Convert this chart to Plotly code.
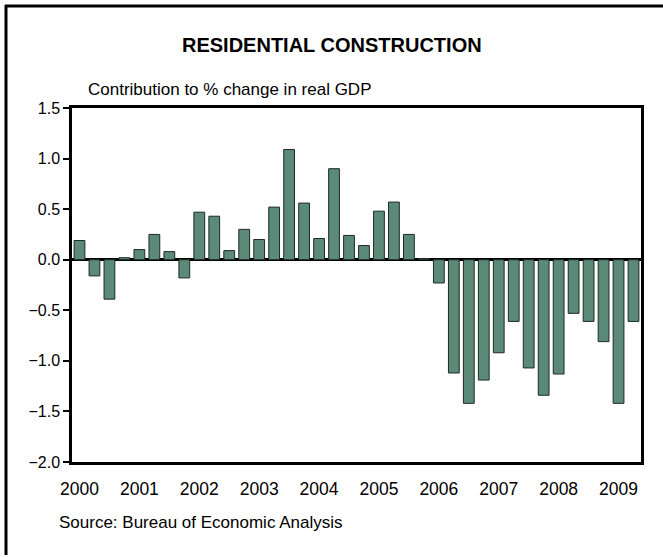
import plotly.graph_objects as go

quarters = [f"{y}Q{q}" for y in range(2000, 2010) for q in range(1, 5)][:38]
values = [0.19, -0.16, -0.39, 0.02, 0.10, 0.25, 0.08, -0.18,
          0.47, 0.43, 0.09, 0.30, 0.20, 0.52, 1.09, 0.56,
          0.21, 0.90, 0.24, 0.14, 0.48, 0.57, 0.25, 0.01,
          -0.23, -1.12, -1.42, -1.19, -0.92, -0.61, -1.07, -1.34,
          -1.13, -0.53, -0.61, -0.81, -1.42, -0.61]
year_labels = [str(y) for y in range(2000, 2010)]
year_ticks = [f"{y}Q1" for y in range(2000, 2010)]

W, H = 663, 557
L, R, T, B = 72, 641, 108, 462

def px(x):
    return (x - L) / (R - L)

def py(y):
    return (B - y) / (B - T)

fig = go.Figure(go.Bar(
    x=quarters, y=values,
    marker=dict(color="#5B8A78", line=dict(color="#1e2a25", width=1)),
    width=0.72,
))

font = "Liberation Sans, Arial, sans-serif"
fig.update_layout(
    width=W, height=H,
    margin=dict(l=L, r=W - R, t=T, b=H - B),
    paper_bgcolor="white", plot_bgcolor="white",
    showlegend=False,
    font=dict(family=font, size=16, color="black"),
    xaxis=dict(
        type="category", categoryorder="array", categoryarray=quarters,
        tickmode="array", tickvals=year_ticks, ticktext=year_labels,
        showgrid=False, showline=True, mirror=True, linecolor="black", linewidth=2.5,
        ticks="", ticklabelstandoff=9, tickfont=dict(size=17.5), range=[-0.5, 37.5],
    ),
    yaxis=dict(
        range=[-2.0, 1.5], dtick=0.5, tick0=0, tickformat=".1f",
        showgrid=False, showline=True, mirror=True, linecolor="black", linewidth=2.5,
        ticks="outside", ticklen=6, tickwidth=1.5, tickcolor="black",
        zeroline=True, zerolinecolor="black", zerolinewidth=2.5,
        tickfont=dict(size=16),
    ),
    shapes=[
        dict(type="line", xref="paper", yref="paper", x0=px(5), x1=px(663), y0=py(6), y1=py(6),
             line=dict(color="black", width=3)),
        dict(type="line", xref="paper", yref="paper", x0=px(6), x1=px(6), y0=py(5), y1=py(555),
             line=dict(color="black", width=3)),
    ],
    annotations=[
        dict(text="<b>RESIDENTIAL CONSTRUCTION</b>", xref="paper", yref="paper",
             x=px(332), y=py(45), xanchor="center", yanchor="middle", showarrow=False,
             font=dict(size=20, family=font)),
        dict(text="Contribution to % change in real GDP", xref="paper", yref="paper",
             x=px(86), y=py(90), xanchor="left", yanchor="middle", showarrow=False,
             font=dict(size=17, family=font)),
        dict(text="Source: Bureau of Economic Analysis", xref="paper", yref="paper",
             x=px(57), y=py(522), xanchor="left", yanchor="middle", showarrow=False,
             font=dict(size=17, family=font)),
    ],
)

fig.write_html("out.html", config={"displayModeBar": False},
               post_script="document.body.style.margin='0';")
